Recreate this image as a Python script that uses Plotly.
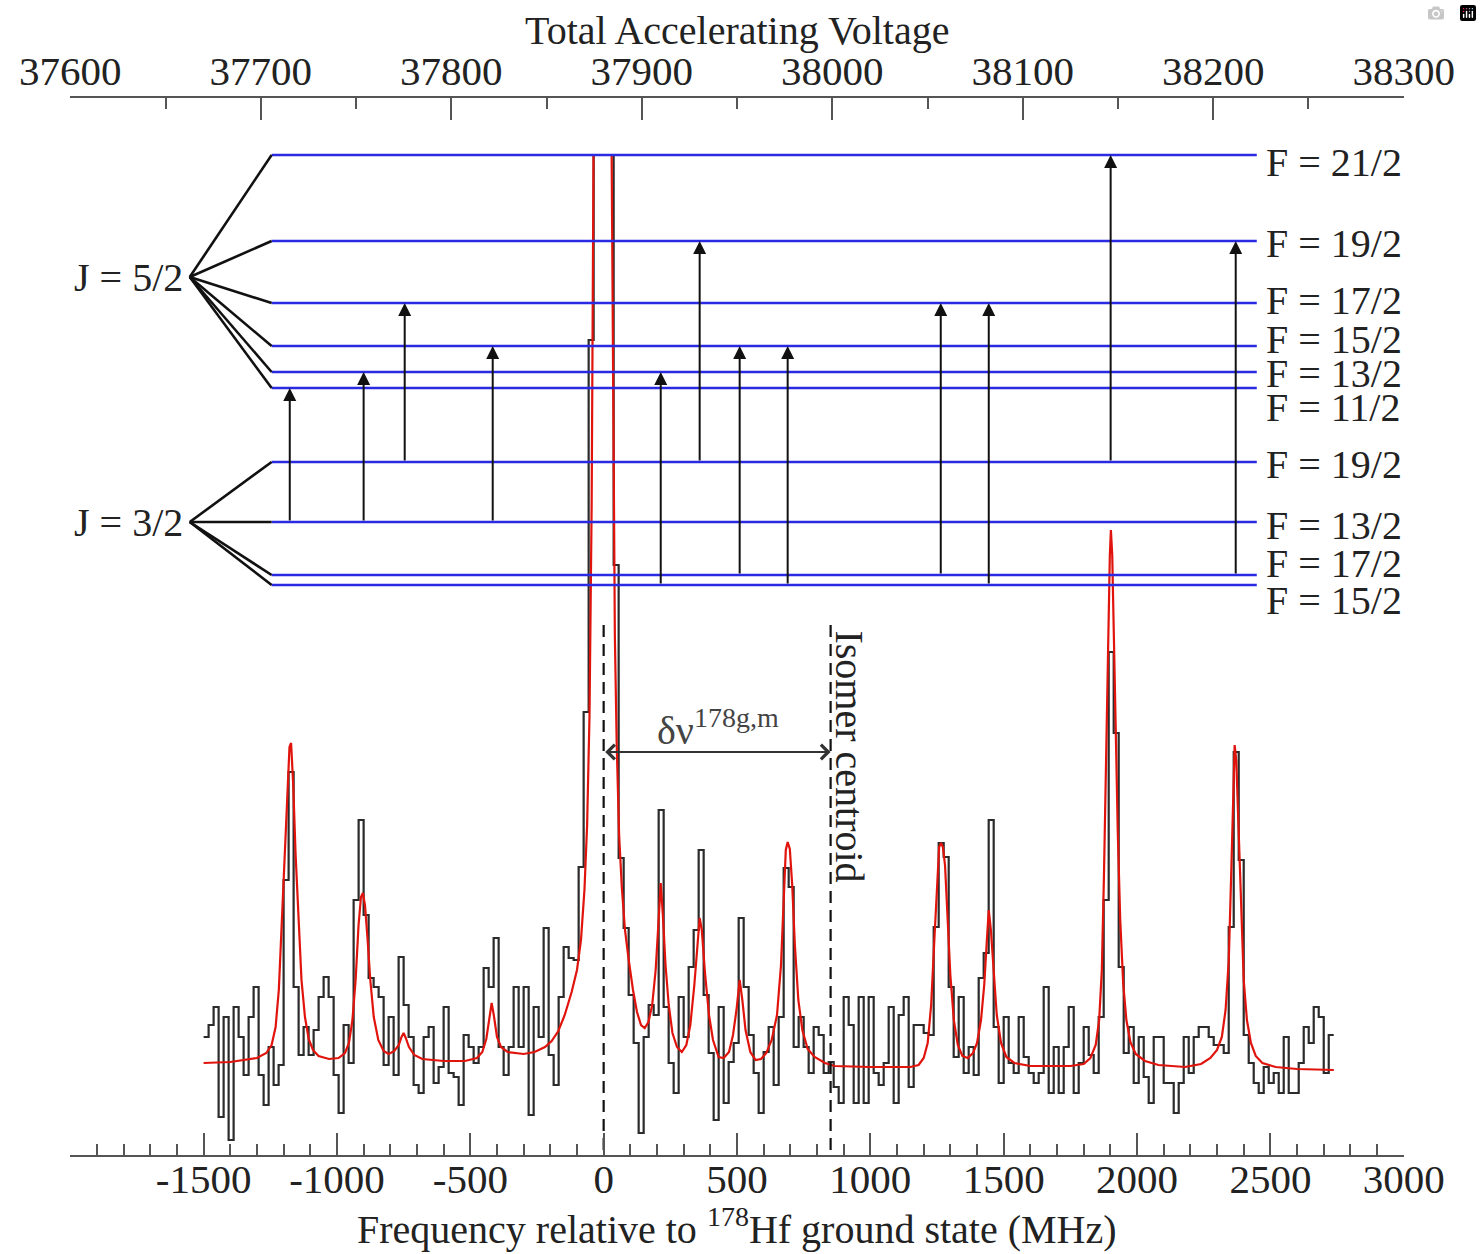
import plotly.graph_objects as go

FONT = "Liberation Serif, Times New Roman, serif"

# ---------------- DATA ----------------
# Histogram of counts (arbitrary units), uniform bins starting at -1500 MHz
bin_start = -1500.0
bin_width = 18.75
counts = [
    118, 130, 148, 38, 138, 15, 148, 118, 80, 138,
    168, 80, 50, 108, 70, 90, 275, 383, 168, 100,
    128, 100, 125, 158, 178, 158, 80, 42, 130, 92,
    255, 335, 240, 177, 168, 158, 90, 138, 80, 198,
    150, 118, 70, 62, 118, 128, 72, 88, 148, 82,
    78, 50, 120, 108, 92, 108, 187, 168, 217, 108,
    80, 108, 168, 108, 168, 40, 148, 118, 227, 100,
    70, 158, 208, 197, 195, 288, 443, 815, 1000, 1000,
    1000, 1000, 590, 297, 227, 160, 112, 22, 118, 150,
    140, 345, 148, 92, 62, 158, 118, 188, 225, 305,
    160, 102, 35, 148, 52, 93, 112, 237, 168, 120,
    82, 42, 103, 128, 70, 138, 287, 268, 108, 138,
    108, 82, 128, 120, 82, 93, 68, 52, 158, 130,
    52, 158, 52, 158, 82, 70, 92, 148, 52, 140,
    158, 68, 130, 130, 122, 120, 228, 312, 298, 168,
    98, 158, 82, 108, 80, 177, 202, 335, 128, 72,
    138, 92, 82, 138, 98, 82, 72, 82, 168, 62,
    108, 62, 108, 148, 62, 92, 128, 100, 82, 138,
    255, 503, 422, 188, 102, 128, 72, 118, 78, 52,
    118, 118, 72, 72, 42, 72, 118, 82, 118, 128,
    128, 118, 110, 110, 102, 228, 403, 295, 120, 92,
    72, 62, 88, 72, 82, 62, 118, 62, 62, 92,
    128, 112, 148, 138, 82, 120,
]

# Fitted curve (red): frequency (MHz)
fit_freq = [
    -1500, -1400, -1300, -1265, -1245, -1230, -1218, -1208, -1196, -1186,
    -1178, -1172, -1164, -1155, -1145, -1133, -1120, -1106, -1090, -1069,
    -1030, -994, -970, -955, -942, -930, -919, -910, -903, -895,
    -885, -875, -862, -845, -825, -806, -785, -768, -758, -750,
    -742, -730, -710, -680, -600, -520, -475, -455, -440, -428,
    -420, -412, -400, -385, -360, -300, -259, -220, -195, -170,
    -146, -120, -100, -85, -72, -62, -53, -45, -38, 30,
    36, 42, 49, 58, 68, 80, 94, 110, 125, 140,
    154, 168, 182, 195, 205, 214, 222, 232, 244, 258,
    275, 293, 310, 325, 340, 352, 360, 368, 380, 395,
    410, 431, 450, 470, 485, 498, 510, 520, 532, 550,
    570, 590, 610, 630, 650, 665, 675, 683, 690, 698,
    707, 717, 730, 745, 765, 791, 830, 866, 1000, 1150,
    1181, 1200, 1215, 1228, 1240, 1250, 1258, 1265, 1272, 1280,
    1290, 1300, 1313, 1328, 1345, 1365, 1385, 1400, 1415, 1427,
    1437, 1444, 1452, 1462, 1474, 1490, 1510, 1540, 1600, 1750,
    1800, 1825, 1845, 1858, 1868, 1876, 1884, 1892, 1898, 1902,
    1907, 1913, 1920, 1928, 1937, 1948, 1960, 1975, 1995, 2030,
    2080, 2180, 2240, 2275, 2300, 2318, 2332, 2344, 2353, 2360,
    2366, 2372, 2380, 2390, 2400, 2412, 2427, 2445, 2470, 2520,
    2600, 2738,
]
fit_counts = [
    92, 93, 97, 102, 110, 128, 165, 225, 302, 370,
    408, 412, 370, 300, 235, 175, 138, 116, 105, 99,
    96, 97, 102, 112, 135, 175, 230, 258, 262, 250,
    215, 175, 138, 115, 104, 101, 104, 110, 118, 122,
    117, 108, 100, 96, 94, 94, 97, 103, 116, 140,
    152, 140, 118, 108, 103, 101, 103, 108, 114, 124,
    140, 163, 185, 215, 265, 330, 440, 650, 1000, 1000,
    700, 520, 410, 320, 268, 225, 195, 165, 143, 130,
    127, 133, 150, 185, 230, 272, 240, 190, 150, 122,
    108, 103, 110, 130, 170, 215, 237, 225, 182, 140,
    115, 98, 97, 103, 120, 145, 175, 155, 125, 103,
    95, 96, 102, 115, 140, 190, 260, 305, 313, 306,
    270, 210, 155, 125, 106, 98, 92, 89, 88, 88,
    90, 97, 112, 150, 215, 275, 308, 312, 308, 290,
    240, 180, 135, 110, 99, 97, 102, 112, 135, 170,
    215, 245, 225, 185, 140, 112, 98, 92, 89, 89,
    91, 97, 110, 135, 185, 280, 400, 520, 600, 625,
    600, 520, 420, 320, 235, 172, 135, 113, 101, 94,
    90, 88, 91, 97, 105, 118, 145, 195, 280, 360,
    410, 395, 330, 240, 175, 135, 112, 99, 92, 88,
    86, 85,
]

# Hyperfine levels (diagram height units)
upper_F = ["21/2", "19/2", "17/2", "15/2", "13/2", "11/2"]
upper_E = [1000, 914, 852, 809, 783, 767]
lower_F = ["19/2", "13/2", "17/2", "15/2"]
lower_E = [693, 633, 580, 570]

# Transitions: frequency (MHz), lower F, upper F
trans_freq = [-1177, -900, -746, -416, 214, 360, 510, 690, 1264, 1444, 1901, 2370]
trans_lower = ["13/2", "13/2", "19/2", "13/2", "15/2", "19/2", "17/2", "15/2", "17/2", "15/2", "19/2", "17/2"]
trans_upper = ["11/2", "13/2", "17/2", "15/2", "13/2", "19/2", "15/2", "15/2", "17/2", "17/2", "21/2", "19/2"]

ground_centroid = 0
isomer_centroid = 851

bottom_tickvals = [-2000, -1500, -1000, -500, 0, 500, 1000, 1500, 2000, 2500, 3000]
bottom_ticktext = ["", "-1500", "-1000", "-500", "0", "500", "1000", "1500", "2000", "2500", "3000"]
top_tickvals = [37600, 37700, 37800, 37900, 38000, 38100, 38200, 38300]
top_ticktext = ["37600", "37700", "37800", "37900", "38000", "38100", "38200", "38300"]

assert len(fit_freq) == len(fit_counts)

# ---------------- FIGURE ----------------
fig = go.Figure()

edges = [bin_start + bin_width * i for i in range(len(counts) + 1)]
fig.add_trace(go.Scatter(
    x=edges, y=counts + [counts[-1]], mode="lines",
    line=dict(color="#2b2b2b", width=2.2, shape="hv"),
    hoverinfo="skip", showlegend=False))

fig.add_trace(go.Scatter(
    x=fit_freq, y=fit_counts, mode="lines",
    line=dict(color="#e0140c", width=2.2),
    hoverinfo="skip", showlegend=False))

# level lines
level_x0, level_x1 = -1245, 2449
lx, ly = [], []
for E in upper_E + lower_E:
    lx += [level_x0, level_x1, None]
    ly += [E, E, None]
fig.add_trace(go.Scatter(x=lx, y=ly, mode="lines",
                         line=dict(color="#2a2ae2", width=2.6),
                         hoverinfo="skip", showlegend=False))

# fan lines from J vertex to each level
vertex_x = -1552
upper_vertex_y = 878
lower_vertex_y = 633
fx, fy = [], []
for E in upper_E:
    fx += [vertex_x, level_x0, None]
    fy += [upper_vertex_y, E, None]
for E in lower_E:
    fx += [vertex_x, level_x0, None]
    fy += [lower_vertex_y, E, None]
fig.add_trace(go.Scatter(x=fx, y=fy, mode="lines",
                         line=dict(color="#111111", width=2.6),
                         hoverinfo="skip", showlegend=False))

# dashed centroid lines
for xc in [ground_centroid, isomer_centroid]:
    fig.add_trace(go.Scatter(x=[xc, xc], y=[5, 530], mode="lines",
                             line=dict(color="#111111", width=2.2, dash="12px,7px"),
                             hoverinfo="skip", showlegend=False))

# dummy trace for the top axis
fig.add_trace(go.Scatter(x=[37600, 38300], y=[-200, -200], xaxis="x2", mode="lines",
                         line=dict(color="rgba(0,0,0,0)"), hoverinfo="skip", showlegend=False))

ann = []
upper_map = dict(zip(upper_F, upper_E))
lower_map = dict(zip(lower_F, lower_E))
for f, lo, up in zip(trans_freq, trans_lower, trans_upper):
    ann.append(dict(x=f, y=upper_map[up], ax=f, ay=lower_map[lo],
                    xref="x", yref="y", axref="x", ayref="y", text="",
                    showarrow=True, arrowhead=2, arrowsize=1.3, arrowwidth=2,
                    arrowcolor="#111111", standoff=0))

# double arrow between centroids
ann.append(dict(x=isomer_centroid, y=403, ax=ground_centroid, ay=403,
                xref="x", yref="y", axref="x", ayref="y", text="",
                showarrow=True, arrowhead=4, startarrowhead=4, arrowside="end+start",
                arrowsize=1.3, startarrowsize=1.3, arrowwidth=2.2, arrowcolor="#333333"))

# F labels
upper_label_y = [993, 912, 855, 816, 782, 748]
lower_label_y = [691, 630, 592, 555]
for F, yl in zip(upper_F + lower_F, upper_label_y + lower_label_y):
    ann.append(dict(x=2475, y=yl, xref="x", yref="y", text="F = " + F,
                    showarrow=False, xanchor="left", yanchor="middle",
                    font=dict(family=FONT, size=40, color="#222222")))

# J labels
ann.append(dict(x=-1571, y=upper_vertex_y, xref="x", yref="y", text="J = 5/2",
                showarrow=False, xanchor="right", yanchor="middle",
                font=dict(family=FONT, size=40, color="#222222")))
ann.append(dict(x=-1571, y=lower_vertex_y, xref="x", yref="y", text="J = 3/2",
                showarrow=False, xanchor="right", yanchor="middle",
                font=dict(family=FONT, size=40, color="#222222")))

# delta nu label
ann.append(dict(x=191, y=428, xref="x", yref="y", text="δν<sup>178g,m</sup>",
                showarrow=False, xanchor="left", yanchor="middle",
                font=dict(family=FONT, size=40, color="#444444")))

# Isomer centroid label
ann.append(dict(x=922, y=399, xref="x", yref="y", text="Isomer centroid",
                showarrow=False, textangle=90, xanchor="center", yanchor="middle",
                font=dict(family=FONT, size=40, color="#222222")))

# axis titles (paper coordinates: plot area spans y 0..1)
ann.append(dict(x=0.5, y=1.064, xref="paper", yref="paper", text="Total Accelerating Voltage",
                showarrow=False, xanchor="center", yanchor="middle",
                font=dict(family=FONT, size=40, color="#222222")))
ann.append(dict(x=0.5, y=-0.0935, xref="paper", yref="paper",
                text="Frequency relative to <sup>178</sup>Hf ground state (MHz)",
                showarrow=False, xanchor="center", yanchor="bottom",
                font=dict(family=FONT, size=40, color="#222222")))

axis_common = dict(ticks="inside", ticklen=22, tickwidth=2, tickcolor="#555555",
                   showline=True, linecolor="#555555", linewidth=2,
                   showgrid=False, zeroline=False, fixedrange=True,
                   tickfont=dict(family=FONT, size=41, color="#222222"))

fig.update_layout(
    width=1482, height=1254,
    margin=dict(l=70, r=78, t=98, b=99),
    paper_bgcolor="white", plot_bgcolor="white",
    showlegend=False,
    font=dict(family=FONT, size=40, color="#222222"),
    xaxis=dict(range=[-2001, 3001], tickmode="array",
               tickvals=bottom_tickvals, ticktext=bottom_ticktext,
               ticklabelstandoff=-13,
               minor=dict(ticks="inside", ticklen=11, tickwidth=1.6, tickcolor="#555555",
                          tickmode="linear", tick0=0, dtick=100, showgrid=False),
               **axis_common),
    xaxis2=dict(range=[37599.86, 38300.14], overlaying="x", side="top", anchor="y",
                tickmode="array", tickvals=top_tickvals, ticktext=top_ticktext,
                ticklabelstandoff=-5,
                minor=dict(ticks="inside", ticklen=11, tickwidth=1.6, tickcolor="#555555",
                           tickmode="linear", tick0=37600, dtick=50, showgrid=False),
                **axis_common),
    yaxis=dict(range=[0, 1057], visible=False, fixedrange=True),
    annotations=ann,
)

fig.write_html("out.html", post_script="document.body.style.margin='0';document.body.style.overflow='hidden';")
